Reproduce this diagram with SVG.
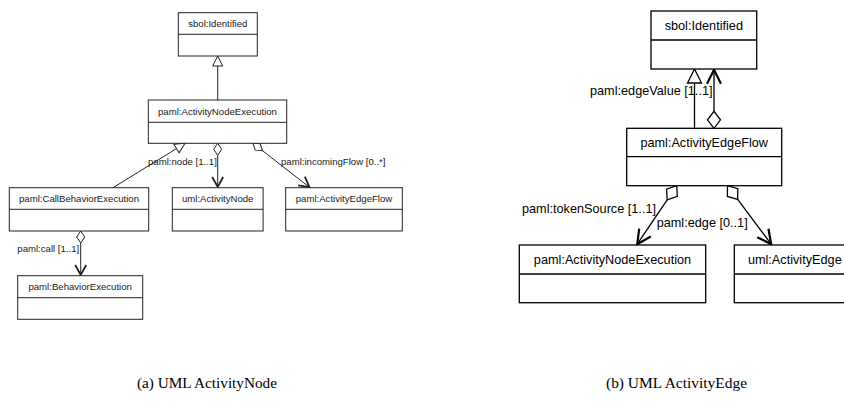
<svg xmlns="http://www.w3.org/2000/svg" width="844" height="401" viewBox="0 0 844 401">
  <style>
    .bg { fill: #ffffff; }
    .box { fill: #ffffff; stroke: #222222; stroke-width: 1; }
    .boxR { fill: #ffffff; stroke: #000000; stroke-width: 1.3; }
    .sep { stroke: #222222; stroke-width: 1; fill: none; }
    .sepR { stroke: #000000; stroke-width: 1.3; fill: none; }
    .ln { stroke: #222222; stroke-width: 1; fill: none; }
    .lnR { stroke: #000000; stroke-width: 1.3; fill: none; }
    .t { font-family: "Liberation Sans", Arial, Helvetica, sans-serif; font-size: 9.6px; fill: #1a1a1a; text-anchor: middle; dominant-baseline: central; }
    .tR { font-family: "Liberation Sans", Arial, Helvetica, sans-serif; font-size: 12.7px; fill: #000000; text-anchor: middle; dominant-baseline: central; }
    .lbl { font-family: "Liberation Sans", Arial, Helvetica, sans-serif; font-size: 9.6px; fill: #1a1a1a; }
    .lblR { font-family: "Liberation Sans", Arial, Helvetica, sans-serif; font-size: 12.7px; fill: #000000; }
    .cap { font-family: "Liberation Serif", "Times New Roman", serif; font-size: 15px; fill: #000000; }
    .hol { fill: #ffffff; stroke: #222222; stroke-width: 1; }
    .holR { fill: #ffffff; stroke: #000000; stroke-width: 1.3; }
    .opn { fill: none; stroke: #222222; stroke-width: 1.8; }
    .opnR { fill: none; stroke: #000000; stroke-width: 2.2; }
  </style>
  <defs>
    <!-- shapes drawn pointing along +x, tip / start at origin -->
    <path id="triS" d="M0,0 L-10,-5 L-10,5 Z"/>
    <path id="triL" d="M0,0 L-14,-7 L-14,7 Z"/>
    <path id="diaS" d="M0,0 L6,-4 L12,0 L6,4 Z"/>
    <path id="diaL" d="M0,0 L8.5,-6.5 L17,0 L8.5,6.5 Z"/>
    <path id="arrS" d="M-10,-5.5 L0,0 L-10,5.5"/>
    <path id="arrL" d="M-14,-7 L0,0 L-14,7"/>
  </defs>
  <rect class="bg" x="0" y="0" width="844" height="401"/>

  <!-- connectors -->
  <g id="connectors">
    <!-- (a) ActivityNodeExecution generalizes sbol:Identified -->
    <line class="ln" x1="217.7" y1="100" x2="217.7" y2="66"/>
    <use href="#triS" class="hol" transform="translate(217.7,56) rotate(-90)"/>
    <!-- (a) CallBehaviorExecution generalizes ActivityNodeExecution -->
    <line class="ln" x1="113" y1="187.7" x2="176.5" y2="148.6"/>
    <use href="#triS" class="hol" transform="translate(185,143.3) rotate(-31.66)"/>
    <!-- (a) paml:node -->
    <use href="#diaS" class="hol" transform="translate(217.7,143.3) rotate(90)"/>
    <line class="ln" x1="217.7" y1="155.3" x2="217.7" y2="187"/>
    <use href="#arrS" class="opn" transform="translate(217.7,187) rotate(90)"/>
    <!-- (a) paml:incomingFlow -->
    <use href="#diaS" class="hol" transform="translate(253,143.3) rotate(37.9)"/>
    <line class="ln" x1="262.5" y1="150.7" x2="309.4" y2="187.2"/>
    <use href="#arrS" class="opn" transform="translate(309.4,187.2) rotate(37.9)"/>
    <!-- (a) paml:call -->
    <use href="#diaS" class="hol" transform="translate(80.7,231) rotate(90)"/>
    <line class="ln" x1="80.7" y1="243" x2="80.7" y2="275"/>
    <use href="#arrS" class="opn" transform="translate(80.7,275) rotate(90)"/>

    <!-- (b) ActivityEdgeFlow generalizes sbol:Identified -->
    <line class="lnR" x1="694.5" y1="128.3" x2="694.5" y2="83"/>
    <use href="#triL" class="holR" transform="translate(694.5,69) rotate(-90)"/>
    <!-- (b) paml:edgeValue -->
    <use href="#diaL" class="holR" transform="translate(714,128.3) rotate(-90)"/>
    <line class="lnR" x1="714" y1="111.3" x2="714" y2="69.8"/>
    <use href="#arrL" class="opnR" transform="translate(714,69.8) rotate(-90)"/>
    <!-- (b) paml:tokenSource -->
    <use href="#diaL" class="holR" transform="translate(676.7,185.7) rotate(124)"/>
    <line class="lnR" x1="667.2" y1="199.8" x2="637.2" y2="244.2"/>
    <use href="#arrL" class="opnR" transform="translate(637.2,244.2) rotate(124)"/>
    <!-- (b) paml:edge -->
    <use href="#diaL" class="holR" transform="translate(727.5,185.7) rotate(53.3)"/>
    <line class="lnR" x1="737.7" y1="199.3" x2="771.2" y2="244.2"/>
    <use href="#arrL" class="opnR" transform="translate(771.2,244.2) rotate(53.3)"/>
  </g>

  <!-- connector labels -->
  <g id="labels">
    <text class="lbl" x="148" y="165">paml:node [1..1]</text>
    <text class="lbl" x="281" y="164.5">paml:incomingFlow [0..*]</text>
    <text class="lbl" x="17.3" y="251.8">paml:call [1..1]</text>
    <text class="lblR" x="590" y="94.5">paml:edgeValue [1..1]</text>
    <text class="lblR" x="522" y="212.8">paml:tokenSource [1..1]</text>
    <text class="lblR" x="656.7" y="226.8">paml:edge [0..1]</text>
  </g>

  <!-- (a) UML ActivityNode -->
  <g id="a-sbol-identified">
    <rect class="box" x="178.3" y="12.7" width="79" height="43.3"/>
    <line class="sep" x1="178.3" y1="34.3" x2="257.3" y2="34.3"/>
    <text class="t" x="217.8" y="23.5">sbol:Identified</text>
  </g>
  <g id="a-activity-node-execution">
    <rect class="box" x="148.3" y="100" width="138.4" height="43.3"/>
    <line class="sep" x1="148.3" y1="122.3" x2="286.7" y2="122.3"/>
    <text class="t" x="217.5" y="111.2">paml:ActivityNodeExecution</text>
  </g>
  <g id="a-call-behavior-execution">
    <rect class="box" x="9.3" y="187.7" width="139.4" height="43.3"/>
    <line class="sep" x1="9.3" y1="209.3" x2="148.7" y2="209.3"/>
    <text class="t" x="79" y="198.5">paml:CallBehaviorExecution</text>
  </g>
  <g id="a-activity-node">
    <rect class="box" x="172.3" y="187.7" width="90.8" height="43.3"/>
    <line class="sep" x1="172.3" y1="209.3" x2="263.1" y2="209.3"/>
    <text class="t" x="217.7" y="198.5">uml:ActivityNode</text>
  </g>
  <g id="a-activity-edge-flow">
    <rect class="box" x="285.7" y="187.7" width="116.6" height="43.3"/>
    <line class="sep" x1="285.7" y1="209.3" x2="402.3" y2="209.3"/>
    <text class="t" x="344" y="198.5">paml:ActivityEdgeFlow</text>
  </g>
  <g id="a-behavior-execution">
    <rect class="box" x="17.7" y="275.7" width="125" height="43.6"/>
    <line class="sep" x1="17.7" y1="297.7" x2="142.7" y2="297.7"/>
    <text class="t" x="80.2" y="286.7">paml:BehaviorExecution</text>
  </g>

  <!-- (b) UML ActivityEdge -->
  <g id="b-sbol-identified">
    <rect class="boxR" x="651" y="11" width="105.7" height="58"/>
    <line class="sepR" x1="651" y1="40" x2="756.7" y2="40"/>
    <text class="tR" x="703.8" y="25.5">sbol:Identified</text>
  </g>
  <g id="b-activity-edge-flow">
    <rect class="boxR" x="626.7" y="128.3" width="155" height="57.4"/>
    <line class="sepR" x1="626.7" y1="156.7" x2="781.7" y2="156.7"/>
    <text class="tR" x="704.2" y="142.5">paml:ActivityEdgeFlow</text>
  </g>
  <g id="b-activity-node-execution">
    <rect class="boxR" x="519.3" y="245" width="186.4" height="57.7"/>
    <line class="sepR" x1="519.3" y1="274" x2="705.7" y2="274"/>
    <text class="tR" x="612.5" y="259.5">paml:ActivityNodeExecution</text>
  </g>
  <g id="b-activity-edge">
    <rect class="boxR" x="734.3" y="245" width="121" height="57.7"/>
    <line class="sepR" x1="734.3" y1="274" x2="855.3" y2="274"/>
    <text class="tR" x="794.8" y="259.5">uml:ActivityEdge</text>
  </g>

  <!-- sub-figure captions -->
  <g id="captions">
    <text class="cap" x="137" y="388" textLength="140" lengthAdjust="spacingAndGlyphs">(a)  UML ActivityNode</text>
    <text class="cap" x="606" y="388" textLength="141" lengthAdjust="spacingAndGlyphs">(b)  UML ActivityEdge</text>
  </g>
</svg>
